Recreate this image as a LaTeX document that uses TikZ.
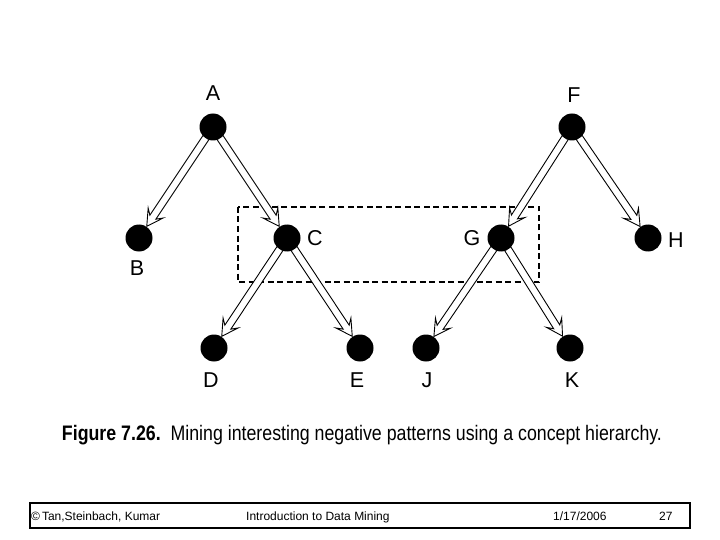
\documentclass[tikz,border=0pt]{standalone}
\usepackage{fontspec}
\setmainfont{Liberation Sans}
\usetikzlibrary{calc}
\tikzset{
  dot/.style={circle, fill=black, minimum size=27pt, inner sep=0pt},
  lbl/.style={font=\fontsize{21.5}{24}\selectfont, inner sep=0pt},
  arrowbody/.style={draw=black, fill=white, line width=0.9pt, line join=miter},
  foot/.style={font=\fontsize{12}{14}\selectfont, anchor=base west, inner sep=0pt}
}
\newcommand\hollowarr[2]{%
  \path let \p1=(#1), \p2=(#2) in \pgfextra{%
    \pgfmathsetmacro\hA{atan2(\y2-\y1,\x2-\x1)}%
    \pgfmathsetmacro\hL{veclen(\x2-\x1,\y2-\y1)-14}%
    \xdef\hAng{\hA}\xdef\hLen{\hL}};
  \begin{scope}[shift={(#1)}, rotate=\hAng]
    \draw[arrowbody] (0pt,3.6pt) -- (\hLen pt-11pt,3.6pt) -- (\hLen pt-16pt,9pt) -- (\hLen pt,0pt)
      -- (\hLen pt-16pt,-9pt) -- (\hLen pt-11pt,-3.6pt) -- (0pt,-3.6pt) -- cycle;
  \end{scope}}
\begin{document}
\begin{tikzpicture}[x=1pt,y=-1pt]
\useasboundingbox (0,0) rectangle (720,540);
\fill[white] (0,0) rectangle (720,540);
% coordinates of nodes
\coordinate (pA) at (213,127);
\coordinate (pF) at (572,127);
\coordinate (pB) at (139,238);
\coordinate (pC) at (287,238);
\coordinate (pG) at (501,238);
\coordinate (pH) at (648,238);
\coordinate (pD) at (214,348);
\coordinate (pE) at (360,348);
\coordinate (pJ) at (426,348);
\coordinate (pK) at (570,348);
% dashed box
\draw[dashed, dash pattern=on 6pt off 3.5pt, line width=1.2pt] (238,207) rectangle (539,282);
% arrows
\hollowarr{pA}{pB}
\hollowarr{pA}{pC}
\hollowarr{pF}{pG}
\hollowarr{pF}{pH}
\hollowarr{pC}{pD}
\hollowarr{pC}{pE}
\hollowarr{pG}{pJ}
\hollowarr{pG}{pK}
% nodes
\node[dot] (A) at (pA) {};
\node[dot] (F) at (pF) {};
\node[dot] (B) at (pB) {};
\node[dot] (C) at (pC) {};
\node[dot] (G) at (pG) {};
\node[dot] (H) at (pH) {};
\node[dot] (D) at (pD) {};
\node[dot] (E) at (pE) {};
\node[dot] (J) at (pJ) {};
\node[dot] (K) at (pK) {};
% labels
\node[lbl] (lA) at (213,93) {A};
\node[lbl] (lF) at (574,95) {F};
\node[lbl] (lB) at (137,268) {B};
\node[lbl] (lC) at (315,238) {C};
\node[lbl] (lG) at (472,238) {G};
\node[lbl] (lH) at (676,240) {H};
\node[lbl] (lD) at (211,380) {D};
\node[lbl] (lE) at (357,380) {E};
\node[lbl] (lJ) at (427,380) {J};
\node[lbl] (lK) at (572,380) {K};
% caption
\node[anchor=base, inner sep=0pt, font=\fontsize{21}{23}\selectfont] (cap) at (362,440)
  {\resizebox{600pt}{\height}{\textbf{Figure 7.26.}\ \ Mining interesting negative patterns using a concept hierarchy.}};
% footer
\draw[line width=1.8pt] (30,503) rectangle (690,528);
\node[foot] (f1) at (31,520) {\textcopyright\,Tan,Steinbach, Kumar};
\node[foot] (f2) at (246,520) {Introduction to Data Mining};
\node[foot] (f3) at (553,520) {1/17/2006};
\node[foot] (f4) at (659,520) {27};
\end{tikzpicture}
\end{document}
